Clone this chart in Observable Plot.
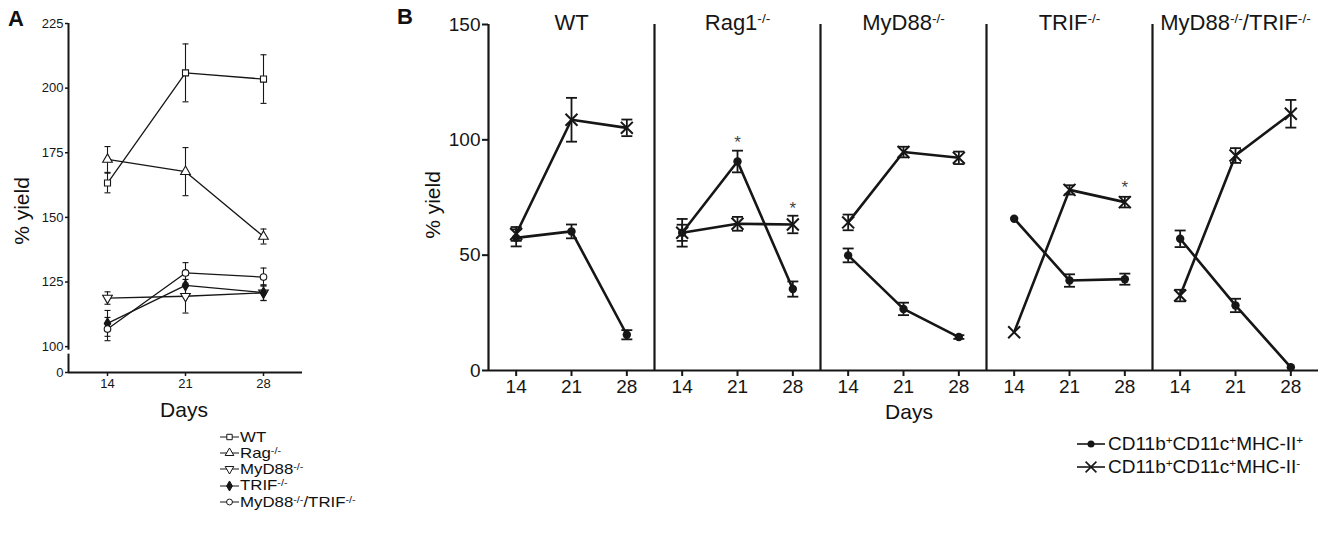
<!DOCTYPE html>
<html><head><meta charset="utf-8">
<script src="https://cdn.jsdelivr.net/npm/d3@7"></script>
<script src="https://cdn.jsdelivr.net/npm/@observablehq/plot@0.6"></script>
<style>
body{margin:0;background:#fff;font-family:"Liberation Sans",Arial,sans-serif;color:#111}
#wrap{position:relative;width:1342px;height:536px;overflow:hidden;background:#fff}
.abs{position:absolute;white-space:nowrap;line-height:1}
.plab{font-weight:bold;font-size:22px}
.ttl{font-size:21px}
.rot{transform:translate(-50%,-50%) rotate(-90deg)}
.ctr{transform:translate(-50%,-50%)}
sup{font-size:0.62em;vertical-align:0.5em;line-height:0}
.legrow{display:flex;align-items:center}
.legrow svg{flex:none}
#legA .legrow{height:16.2px;font-size:14.5px;line-height:1}
#legA .legrow span{display:inline-block;transform:scaleX(1.16);transform-origin:0 50%}
#legA sup{font-size:0.64em;vertical-align:0.42em}
#legB .legrow{height:23px;font-size:19px}
</style></head><body>
<div id="wrap">
  <div id="plotA" class="abs" style="left:0;top:0"></div>
  <div id="plotB" class="abs" style="left:400px;top:0"></div>
  <div class="abs plab" style="left:8px;top:8px">A</div>
  <div class="abs plab" style="left:397px;top:6px">B</div>
  <div class="abs ttl rot" style="left:21px;top:211px">% yield</div>
  <div class="abs ttl ctr" style="left:184px;top:409px">Days</div>
  <div class="abs ttl rot" style="left:432px;top:205px">% yield</div>
  <div class="abs ttl ctr" style="left:909px;top:411px">Days</div>
  <div id="legA" class="abs" style="left:219px;top:429px"></div>
  <div id="legB" class="abs" style="left:1076px;top:432px"></div>
</div>
<script>
// ---------- data ----------
const days = [14, 21, 28];

// Panel A
const strainsA = ["WT", "Rag-/-", "MyD88-/-", "TRIF-/-", "MyD88-/-/TRIF-/-"];
const aWT       = [163.3, 205.9, 203.5];
const aWTerr    = [3.8, 11.2, 9.4];
const aRag      = [172.4, 167.7, 142.6];
const aRagErr   = [5.0, 9.3, 2.9];
const aMyD      = [118.8, 119.5, 120.8];
const aMyDErr   = [2.4, 6.5, 3.0];
const aTRIF     = [109.0, 123.7, 120.9];
const aTRIFErr  = [5.0, 4.0, 3.0];
const aDKO      = [106.8, 128.5, 126.9];
const aDKOErr   = [4.5, 4.0, 3.5];
const aTicks      = [90, 100, 125, 150, 175, 200, 225];
const aTickLabels = ["0", "100", "125", "150", "175", "200", "225"];

// Panel B
const panelsB = ["WT", "Rag1-/-", "MyD88-/-", "TRIF-/-", "MyD88-/-/TRIF-/-"];
const seriesB = ["CD11b+CD11c+MHC-II+", "CD11b+CD11c+MHC-II-"];
const bPos    = [[57.5, 60.3, 15.5], [59.7, 90.6, 35.3], [49.9, 26.7, 14.5], [65.8, 39.0, 39.6], [57.1, 28.2, 1.4]];
const bPosErr = [[3.7, 3.0, 2.0], [6.0, 4.7, 3.3], [3.0, 2.7, 0.8], [0, 2.7, 2.4], [3.6, 2.9, 0]];
const bNeg    = [[59.2, 108.7, 105.2], [59.7, 63.6, 63.3], [64.2, 94.7, 92.2], [16.6, 78.3, 73.0], [32.5, 93.2, 111.3]];
const bNegErr = [[3.0, 9.5, 3.6], [3.5, 3.0, 3.8], [3.4, 2.3, 2.7], [0, 2.0, 2.3], [2.5, 3.2, 6.0]];
const bTicks  = [0, 50, 100, 150];
const stars   = [
  {panel: "Rag1-/-", day: 21, value: 100.5},
  {panel: "Rag1-/-", day: 28, value: 72.0},
  {panel: "TRIF-/-", day: 28, value: 81.0}
];

// ---------- styles / scale settings ----------
const xDomain = [10.5, 31.5];
const aDomain = [90, 225];
const aBreak = [97.1, 98.6];
const bDomain = [0, 150];
const ink = "#161616";
const font = '"Liberation Sans", Arial, sans-serif';
const styleA = {
  "WT": {symbol: "square", fill: "#fff", rotate: 0, r: 3.4},
  "Rag-/-": {symbol: "triangle", fill: "#fff", rotate: 0, r: 3.6},
  "MyD88-/-": {symbol: "triangle", fill: "#fff", rotate: 180, r: 3.6},
  "TRIF-/-": {symbol: "diamond", fill: ink, rotate: 0, r: 3.4},
  "MyD88-/-/TRIF-/-": {symbol: "circle", fill: "#fff", rotate: 0, r: 3.3}
};
const capSym = {draw(ctx, size) { const r = Math.sqrt(size / Math.PI); ctx.moveTo(-r, 0); ctx.lineTo(r, 0); }};

// ---------- tables ----------
const valsA = [aWT, aRag, aMyD, aTRIF, aDKO];
const errsA = [aWTerr, aRagErr, aMyDErr, aTRIFErr, aDKOErr];
const rowsA = strainsA.flatMap((s, i) => days.map((d, j) => ({strain: s, day: d, value: valsA[i][j], err: errsA[i][j]})));

const rowsB = panelsB.flatMap((p, i) => days.flatMap((d, j) => [
  {panel: p, day: d, series: seriesB[0], value: bPos[i][j], err: bPosErr[i][j]},
  {panel: p, day: d, series: seriesB[1], value: bNeg[i][j], err: bNegErr[i][j]}
]));
const errB = rowsB.filter(d => d.err > 0);

// ---------- Panel A ----------
const plotA = Plot.plot({
  width: 320, height: 420,
  marginLeft: 68, marginRight: 18, marginTop: 23, marginBottom: 48,
  style: {fontFamily: font, color: ink, background: "transparent", overflow: "visible"},
  x: {domain: xDomain},
  y: {domain: aDomain},
  marks: [
    Plot.ruleX([[aDomain[0], aBreak[0]], [aBreak[1], aDomain[1]]], {x: xDomain[0], y1: d => d[0], y2: d => d[1], stroke: ink, strokeWidth: 2}),
    Plot.ruleY([aDomain[0]], {stroke: ink, strokeWidth: 2}),
    Plot.axisX({ticks: days, tickSize: 4, tickPadding: 2, fontSize: 13, label: null, stroke: ink, strokeWidth: 1.5}),
    Plot.axisY({ticks: aTicks, tickFormat: d => aTickLabels[aTicks.indexOf(d)], tickSize: 3, tickPadding: 2, fontSize: 13, label: null, stroke: ink, strokeWidth: 1.5}),
    Plot.line(rowsA, {x: "day", y: "value", z: "strain", stroke: ink, strokeWidth: 1.3}),
    Plot.ruleX(rowsA, {x: "day", y1: d => d.value - d.err, y2: d => d.value + d.err, stroke: ink, strokeWidth: 1.1}),
    Plot.dot(rowsA, {x: "day", y: d => d.value + d.err, symbol: capSym, r: 3, stroke: ink, strokeWidth: 1.1}),
    Plot.dot(rowsA, {x: "day", y: d => d.value - d.err, symbol: capSym, r: 3, stroke: ink, strokeWidth: 1.1}),
    ...strainsA.map(s => Plot.dot(rowsA.filter(d => d.strain === s), {
      x: "day", y: "value", symbol: styleA[s].symbol, r: styleA[s].r, rotate: styleA[s].rotate,
      fill: styleA[s].fill, stroke: ink, strokeWidth: 1.1
    }))
  ]
});
document.getElementById("plotA").append(plotA);

// ---------- Panel B ----------
const plotB = Plot.plot({
  width: 942, height: 430,
  marginLeft: 87, marginRight: 24, marginTop: 24, marginBottom: 60,
  style: {fontFamily: font, color: ink, background: "transparent", overflow: "visible"},
  fx: {domain: panelsB, padding: 0, axis: null},
  x: {domain: xDomain},
  y: {domain: bDomain},
  marks: [
    Plot.ruleX(panelsB, {fx: d => d, x: xDomain[0], y1: bDomain[0], y2: bDomain[1], stroke: ink, strokeWidth: 2.2}),
    Plot.ruleY([bDomain[0]], {stroke: ink, strokeWidth: 2.2}),
    Plot.axisX({ticks: days, tickSize: 6, tickPadding: 3, fontSize: 19, label: null, stroke: ink, strokeWidth: 2}),
    Plot.axisY({ticks: bTicks, tickSize: 6, tickPadding: 2, fontSize: 19, label: null, stroke: ink, strokeWidth: 2}),
    Plot.text(panelsB, {fx: d => d, text: d => d, frameAnchor: "top", dy: -10, fontSize: 22, fill: ink}),
    Plot.line(rowsB, {fx: "panel", x: "day", y: "value", z: "series", stroke: ink, strokeWidth: 2.6}),
    Plot.ruleX(errB, {fx: "panel", x: "day", y1: d => d.value - d.err, y2: d => d.value + d.err, stroke: ink, strokeWidth: 1.8}),
    Plot.dot(errB, {fx: "panel", x: "day", y: d => d.value + d.err, symbol: capSym, r: 5.5, stroke: ink, strokeWidth: 1.8}),
    Plot.dot(errB, {fx: "panel", x: "day", y: d => d.value - d.err, symbol: capSym, r: 5.5, stroke: ink, strokeWidth: 1.8}),
    Plot.dot(rowsB.filter(d => d.series === seriesB[0]), {fx: "panel", x: "day", y: "value", symbol: "circle", r: 4.2, fill: ink}),
    Plot.dot(rowsB.filter(d => d.series === seriesB[1]), {fx: "panel", x: "day", y: "value", symbol: "times", r: 5.5, stroke: ink, strokeWidth: 2}),
    Plot.text(stars, {fx: "panel", x: "day", y: "value", text: () => "*", fontSize: 17, dy: 4, fill: "#444"})
  ]
});
document.getElementById("plotB").append(plotB);

// ---------- superscripts in SVG text ----------
function supify(svg) {
  d3.select(svg).selectAll("text").each(function() {
    const t = this.textContent;
    if (!t.includes("-/-")) return;
    const parts = t.split(/(-\/-)/).filter(s => s);
    const sel = d3.select(this);
    sel.text(null);
    let raised = false;
    parts.forEach(p => {
      if (p === "-/-") { sel.append("tspan").attr("dy", raised ? null : "-0.55em").attr("font-size", "0.62em").text(p); raised = true; }
      else { sel.append("tspan").attr("dy", raised ? "0.34em" : null).text(p); raised = false; }
    });
  });
}
supify(plotB);

function supHTML(s) {
  return s.replace(/-\/-/g, "<sup>-/-</sup>").replace(/([bcI])([+-])(?=C|M|$)/g, "$1<sup>$2</sup>");
}

// ---------- legend A ----------
const symMap = {square: d3.symbolSquare, triangle: d3.symbolTriangle, diamond: d3.symbolDiamond, circle: d3.symbolCircle};
const legA = d3.select("#legA");
strainsA.forEach(s => {
  const st = styleA[s];
  const row = legA.append("div").attr("class", "legrow");
  const svg = row.append("svg").attr("width", 21).attr("height", 14);
  svg.append("line").attr("x1", 1).attr("x2", 20).attr("y1", 7).attr("y2", 7).attr("stroke", ink).attr("stroke-width", 1);
  svg.append("path").attr("d", d3.symbol(symMap[st.symbol], Math.PI * st.r * st.r * 0.8)())
     .attr("transform", `translate(10.5,7) rotate(${st.rotate})`).attr("fill", st.fill).attr("stroke", ink).attr("stroke-width", 1);
  row.append("span").html(supHTML(s));
});

// ---------- legend B ----------
const legB = d3.select("#legB");
seriesB.forEach((s, i) => {
  const row = legB.append("div").attr("class", "legrow");
  const svg = row.append("svg").attr("width", 30).attr("height", 16);
  svg.append("line").attr("x1", 1).attr("x2", 29).attr("y1", 8).attr("y2", 8).attr("stroke", ink).attr("stroke-width", 1.6);
  if (i === 0) svg.append("circle").attr("cx", 15).attr("cy", 8).attr("r", 3.5).attr("fill", ink);
  else svg.append("path").attr("d", d3.symbol(d3.symbolTimes, Math.PI * 25)()).attr("transform", "translate(15,8)").attr("stroke", ink).attr("stroke-width", 1.6).attr("fill", "none");
  row.append("span").style("margin-left", "2px").html(supHTML(s));
});
</script>
</body></html>
